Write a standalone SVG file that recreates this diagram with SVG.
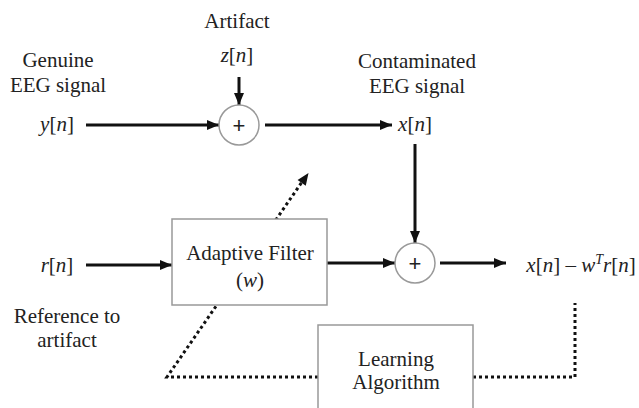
<svg xmlns="http://www.w3.org/2000/svg" width="639" height="408" viewBox="0 0 639 408">
<style>
text{font-size:21px;fill:#222;text-anchor:middle}
.i{font-style:italic}
.plus{font-size:22px;fill:#222}
.box{fill:#fff;stroke:#999;stroke-width:1.5}
.sum{fill:#fff;stroke:#999;stroke-width:1.5}
.arr{fill:none;stroke:#111;stroke-width:3}
.dot{fill:none;stroke:#111;stroke-width:3;stroke-dasharray:3 3}
</style>
<defs>
<marker id="ah" viewBox="0 0 12 10" markerWidth="12" markerHeight="10" refX="12" refY="5" orient="auto" markerUnits="userSpaceOnUse">
<path d="M0,0 L12,5 L0,10 Z" fill="#111"/>
</marker>
</defs>
<g id="connectors">
<line class="arr" x1="86" y1="125" x2="219" y2="125" marker-end="url(#ah)"/>
<line class="arr" x1="239" y1="77" x2="239" y2="105" marker-end="url(#ah)"/>
<line class="arr" x1="265" y1="125" x2="392" y2="125" marker-end="url(#ah)"/>
<line class="arr" x1="415" y1="144" x2="415" y2="243" marker-end="url(#ah)"/>
<line class="arr" x1="86" y1="265" x2="172" y2="265" marker-end="url(#ah)"/>
<line class="arr" x1="327" y1="263" x2="395" y2="263" marker-end="url(#ah)"/>
<line class="arr" x1="440" y1="263" x2="506" y2="263" marker-end="url(#ah)"/>
<path class="dot" d="M473,377 H575 V303"/>
<path class="dot" d="M318,377 H167 L302,182"/>
<path d="M0,0 L12,5 L0,10 Z" fill="#111" transform="translate(308.5,173) rotate(-55.3) translate(-12,-5)"/>
</g>
<g font-family="Liberation Serif">
<g id="artifact-label">
<text font-family="Liberation Serif" x="237" y="28">Artifact</text>
<text font-family="Liberation Serif" x="237" y="62"><tspan class="i">z</tspan>[<tspan class="i">n</tspan>]</text>
</g>
<g id="genuine">
<text font-family="Liberation Serif" x="58" y="67">Genuine</text>
<text font-family="Liberation Serif" x="58" y="92">EEG signal</text>
<text font-family="Liberation Serif" x="57" y="131"><tspan class="i">y</tspan>[<tspan class="i">n</tspan>]</text>
</g>
<g id="contaminated">
<text font-family="Liberation Serif" x="417" y="68">Contaminated</text>
<text font-family="Liberation Serif" x="417" y="93">EEG signal</text>
<text font-family="Liberation Serif" x="415" y="131"><tspan class="i">x</tspan>[<tspan class="i">n</tspan>]</text>
</g>
<g id="sum1">
<circle class="sum" cx="239" cy="125" r="20"/>
<text class="plus" font-family="Liberation Sans" x="239" y="133">+</text>
</g>
<g id="sum2">
<circle class="sum" cx="415" cy="263" r="20"/>
<text class="plus" font-family="Liberation Sans" x="415" y="271">+</text>
</g>
<g id="reference">
<text font-family="Liberation Serif" x="57" y="272"><tspan class="i">r</tspan>[<tspan class="i">n</tspan>]</text>
<text font-family="Liberation Serif" x="67" y="323">Reference to</text>
<text font-family="Liberation Serif" x="67" y="347">artifact</text>
</g>
<g id="adaptive-filter">
<rect class="box" x="172" y="219" width="155" height="86"/>
<text font-family="Liberation Serif" x="250" y="260">Adaptive Filter</text>
<text font-family="Liberation Serif" x="250" y="287">(<tspan class="i">w</tspan>)</text>
</g>
<g id="learning-algorithm">
<rect class="box" x="318" y="325" width="155" height="90"/>
<text font-family="Liberation Serif" x="396" y="366">Learning</text>
<text font-family="Liberation Serif" x="396" y="389">Algorithm</text>
</g>
<g id="output">
<text font-family="Liberation Serif" x="581" y="272"><tspan class="i">x</tspan>[<tspan class="i">n</tspan>] – <tspan class="i">w</tspan><tspan class="i" font-size="14" dy="-8">T</tspan><tspan class="i" dy="8">r</tspan>[<tspan class="i">n</tspan>]</text>
</g>
</g>
</svg>
